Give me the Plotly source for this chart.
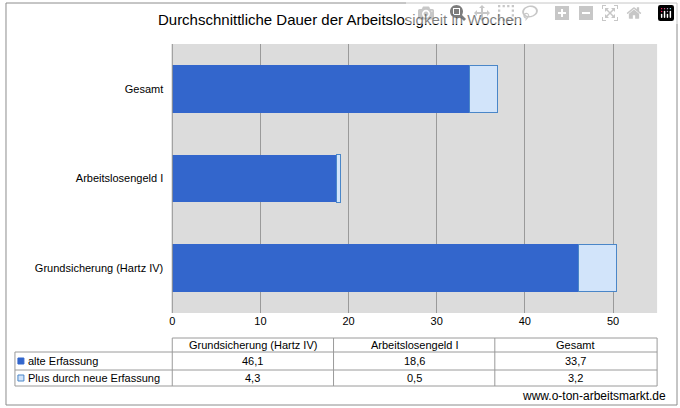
import plotly.graph_objects as go

categories = ["Grundsicherung (Hartz IV)", "Arbeitslosengeld I", "Gesamt"]
alte = [46.1, 18.6, 33.7]
plus = [4.3, 0.5, 3.2]
series_names = ["alte Erfassung", "Plus durch neue Erfassung"]
title = "Durchschnittliche Dauer der Arbeitslosigkeit in Wochen"
source = "www.o-ton-arbeitsmarkt.de"

W, H = 680, 408
def px(x): return x / W
def py(y): return 1 - y / H

fig = go.Figure()
fig.add_bar(y=categories, x=alte, orientation="h", name=series_names[0],
            marker=dict(color="#3366CC", line=dict(width=0)), width=0.53)
fig.add_bar(y=categories, x=plus, orientation="h", name=series_names[1],
            marker=dict(color="#D2E4FA", line=dict(color="#4A86C8", width=1)), width=0.53)

font = dict(family="Liberation Sans, Arial", size=11, color="#000")
fig.update_layout(
    width=W, height=H, barmode="stack", showlegend=False,
    paper_bgcolor="white", plot_bgcolor="#DCDCDC",
    margin=dict(l=0, r=0, t=0, b=0), font=font,
    xaxis=dict(domain=[px(170), px(657)], range=[0, 55], tickvals=[0, 10, 20, 30, 40, 50],
               showgrid=True, gridcolor="#9A9A9A", gridwidth=1, zeroline=False,
               ticks="", showline=False, tickfont=dict(size=11)),
    yaxis=dict(domain=[py(313), py(44)], range=[-0.5, 2.5], showgrid=False,
               ticks="", ticklabelstandoff=8, tickfont=dict(size=11)),
    title=dict(text=title, x=0.5, xanchor="center", y=py(20), yanchor="middle",
               font=dict(size=15, family="Liberation Sans, Arial")),
)

shapes = []
ann = []
def A(text, x, y, xa="center", size=11):
    ann.append(dict(text=text, x=px(x), y=py(y), xref="paper", yref="paper", xanchor=xa, yanchor="middle",
                    showarrow=False, font=dict(family="Liberation Sans, Arial", size=size, color="#000")))
def L(x0, y0, x1, y1, c="#9A9A9A"):
    shapes.append(dict(type="line", xref="paper", yref="paper", x0=px(x0), x1=px(x1), y0=py(y0), y1=py(y1),
                       line=dict(color=c, width=1)))

shapes.append(dict(type="rect", xref="paper", yref="paper", x0=px(3), x1=px(677), y0=py(405), y1=py(3),
                   line=dict(color="#8C8C8C", width=1)))
L(170, 313, 170, 44, "#8C8C8C")
cols = [12, 170, 332, 494, 657]
rows = [338, 352, 370, 386]
L(170, 338, 657, 338)
for r in rows[1:]:
    L(12, r, 657, r)
for i, c in enumerate(cols):
    L(c, rows[3], c, rows[1] if i == 0 else rows[0])
for j, cat in enumerate(categories):
    xc = (cols[j + 1] + cols[j + 2]) / 2
    A(cat, xc, (rows[0] + rows[1]) / 2)
    for k, vals in enumerate([alte, plus]):
        A(f"{vals[j]:.1f}".replace(".", ","), xc, (rows[k + 1] + rows[k + 2]) / 2)
for k, (nm, fc, lc) in enumerate([(series_names[0], "#3366CC", "#3366CC"), (series_names[1], "#D2E4FA", "#4A86C8")]):
    yc = (rows[k + 1] + rows[k + 2]) / 2
    shapes.append(dict(type="rect", xref="paper", yref="paper", x0=px(15), x1=px(21), y0=py(yc + 3), y1=py(yc - 3),
                       fillcolor=fc, line=dict(color=lc, width=1)))
    A(nm, 23, yc, xa="left")
A(source, 668, 396, xa="right", size=12)
fig.update_layout(shapes=shapes, annotations=ann)
fig.write_html("out.html", post_script="document.body.style.margin='0';document.body.style.overflow='hidden';")
